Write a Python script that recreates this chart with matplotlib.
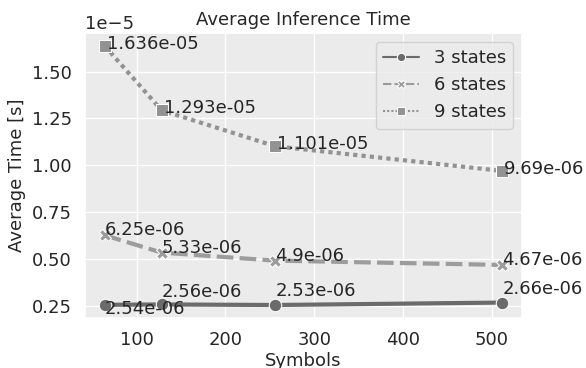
import numpy as np
import matplotlib.pyplot as plt
import seaborn as sns
from matplotlib.lines import Line2D

sns.set_theme(style="darkgrid", rc={"axes.facecolor": "#EBEBEB"})
plt.rcParams['font.family'] = ['DejaVu Sans']

symbols = [64, 128, 256, 512]
time3 = [2.54e-06, 2.56e-06, 2.53e-06, 2.66e-06]
time6 = [6.25e-06, 5.33e-06, 4.9e-06, 4.67e-06]
time9 = [1.636e-05, 1.293e-05, 1.101e-05, 9.69e-06]
labels = ["3 states", "6 states", "9 states"]

series = [time3, time6, time9]
colors = ['#6b6b6b', '#9c9c9c', '#929292']
markers = ['o', 'X', 's']
dashes = [(), (4, 1.5), (1, 1)]
# text offsets in pixels
offsets = [[(0, -9), (0, 7), (0, 9), (0, 9)],
           [(0, 0), (0, 0), (0, 0), (0, 0)],
           [(2, -3), (2, -3), (2, -3), (2, -3)]]

fig = plt.figure(figsize=(5.86, 3.68), dpi=100)
fig.subplots_adjust(left=0.145, right=0.891, top=0.910, bottom=0.136)
ax = fig.add_subplot(1, 1, 1)

handles = []
for vals, c, m, d, offs, lab in zip(series, colors, markers, dashes, offsets, labels):
    ln, = ax.plot(symbols, vals, color=c, marker=m, ms=9, lw=3,
                  markeredgecolor='white', markeredgewidth=0.75)
    if d:
        ln.set_dashes(d)
    for x, y, o in zip(symbols, vals, offs):
        ax.annotate(f"{y:.4g}", (x, y), xytext=o, textcoords='offset pixels',
                    ha='left', va='baseline', fontsize=13, color='#262626')
    h = Line2D([], [], color=c, marker=m, ms=6, lw=1.5,
               markeredgecolor='white', markeredgewidth=0.75)
    if d:
        h.set_dashes(d)
    handles.append(h)

ax.set_title("Average Inference Time", fontsize=13)
ax.set_xlabel("Symbols", fontsize=13, labelpad=2)
ax.set_ylabel("Average Time [s]", fontsize=13)
ax.tick_params(labelsize=13)
ax.yaxis.get_offset_text().set_fontsize(13)
ax.set_yticks([0.25e-5, 0.5e-5, 0.75e-5, 1.0e-5, 1.25e-5, 1.5e-5])
ax.legend(handles, labels, loc='upper right', fontsize=13)

fig.savefig("out.png", dpi=100)
